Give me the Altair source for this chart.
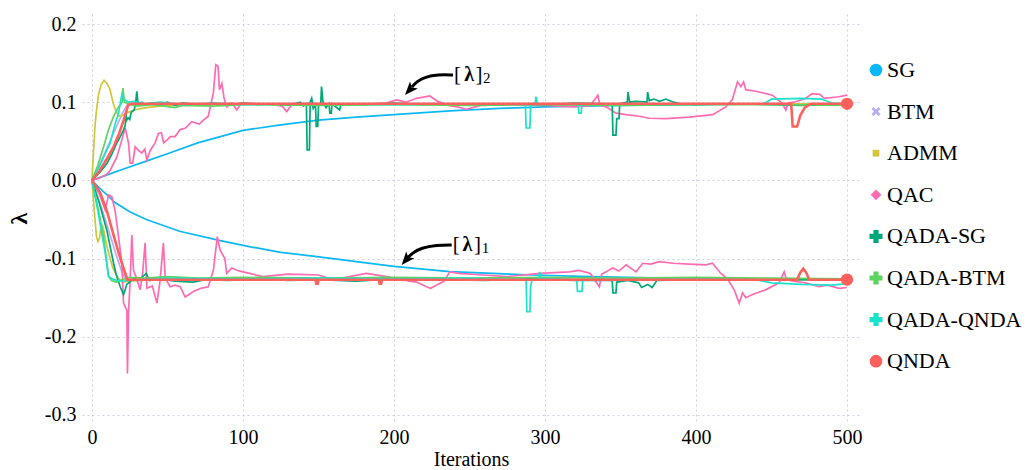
import altair as alt
import pandas as pd
import numpy as np

SERIES = ["SG", "BTM", "ADMM", "QAC", "QADA-SG", "QADA-BTM", "QADA-QNDA", "QNDA"]
COLORS = ["#0bb8f3", "#b9acf2", "#d2c53c", "#ff6bb0", "#00a779", "#5fd35f", "#19e3cb", "#ff605c"]
X_TICKS = [0, 100, 200, 300, 400, 500]
Y_TICKS = [-0.3, -0.2, -0.1, 0.0, 0.1, 0.2]

# (iteration, value); l2 = [lambda]_2 (upper), l1 = [lambda]_1 (lower)
sg_l2 = [(0, 0), (10, 0.007), (20, 0.014), (35, 0.024), (50, 0.034), (70, 0.048), (85, 0.056), (100, 0.064),
         (125, 0.071), (150, 0.077), (175, 0.081), (200, 0.084), (237, 0.089), (270, 0.092), (300, 0.094),
         (350, 0.096), (400, 0.097), (450, 0.098), (500, 0.098)]
sg_l1 = [(0, 0), (5, -0.01), (10, -0.0185), (15, -0.028), (25, -0.04), (36, -0.05), (58, -0.065), (85, -0.077),
         (105, -0.085), (125, -0.092), (149, -0.0975), (175, -0.104), (200, -0.110), (237, -0.1166),
         (265, -0.119), (292, -0.121), (330, -0.123), (380, -0.125), (430, -0.126), (500, -0.127)]

btm_l2 = [(0, 0), (4, 0.015), (8, 0.033), (12, 0.05), (16, 0.068), (20, 0.085), (23, 0.096), (26, 0.098), (500, 0.098)]
btm_l1 = [(0, 0), (4, -0.022), (8, -0.045), (12, -0.07), (16, -0.095), (20, -0.118), (23, -0.128), (26, -0.127),
          (500, -0.127)]

admm_l2 = [(0, 0), (0.7, 0.026), (2, 0.069), (3, 0.09), (4.4, 0.11), (6, 0.122), (8, 0.128), (10, 0.124),
           (12, 0.116), (14, 0.099), (16, 0.088), (18, 0.082), (20, 0.083), (24, 0.087), (28, 0.09), (33, 0.092),
           (40, 0.094), (50, 0.096), (70, 0.097), (100, 0.098), (500, 0.098)]
admm_l1 = [(0, 0), (1, -0.025), (2, -0.05), (3, -0.072), (4, -0.078), (5, -0.074), (6, -0.06), (7, -0.058),
           (8, -0.066), (10, -0.085), (12, -0.1), (14, -0.113), (17, -0.124), (20, -0.13), (25, -0.129),
           (40, -0.127), (500, -0.127)]

qac_l2 = [(0, 0), (5, 0.003), (10, 0.008), (12.1, 0.013), (16.5, 0.03), (19.8, 0.052), (22, 0.067), (24.2, 0.048),
          (25.3, 0.022), (27, 0.022), (28.6, 0.043), (31, 0.038), (33, 0.035), (35, 0.04), (36.4, 0.026),
          (38.5, 0.038), (41.8, 0.048), (44, 0.06), (46, 0.061), (47.5, 0.048), (50, 0.052), (51.8, 0.056),
          (55, 0.056), (58.4, 0.065), (62, 0.067), (66, 0.075), (71, 0.072), (73.8, 0.077), (77, 0.082),
          (80.4, 0.112), (82, 0.148), (83.5, 0.146), (84.4, 0.116), (86, 0.124), (87.5, 0.105), (89.2, 0.094),
          (92.6, 0.099), (95.9, 0.09), (99, 0.099), (110, 0.098), (120, 0.097), (126, 0.095), (129, 0.088),
          (132, 0.096), (140, 0.098), (170, 0.097), (195, 0.099), (201.6, 0.103), (208, 0.1), (215, 0.105),
          (223.7, 0.108), (229, 0.101), (236, 0.096), (242, 0.094), (248, 0.091), (254, 0.094), (260, 0.097),
          (300, 0.096), (320, 0.094), (330, 0.096), (335, 0.109), (336.5, 0.096), (340.5, 0.094), (347, 0.086),
          (353.7, 0.084), (362.5, 0.082), (369, 0.0795), (380, 0.079), (395.5, 0.081), (411, 0.084),
          (419.8, 0.094), (424, 0.103), (427.5, 0.126), (429.7, 0.12), (431.5, 0.126), (433, 0.116),
          (439.6, 0.114), (450.6, 0.109), (457, 0.099), (459.5, 0.09), (461, 0.099), (465, 0.1), (472.7, 0.105),
          (477, 0.111), (482, 0.11), (485, 0.105), (494.7, 0.107), (500, 0.109)]
qac_l1 = [(0, 0), (5, -0.018), (8.8, -0.038), (11, -0.0185), (13.2, -0.021), (15.4, -0.04), (17.6, -0.072),
          (19.8, -0.106), (20.9, -0.157), (23.1, -0.166), (23.5, -0.247), (24.2, -0.17), (25.3, -0.127),
          (26.4, -0.07), (27.5, -0.115), (29.5, -0.125), (31.9, -0.14), (33.5, -0.12), (35.2, -0.08),
          (36.4, -0.138), (40, -0.135), (43, -0.157), (45, -0.13), (47.3, -0.08), (48.5, -0.125), (51.8, -0.136),
          (55, -0.134), (58.4, -0.136), (61.7, -0.149), (67.2, -0.142), (72, -0.138), (77, -0.136), (80.4, -0.115),
          (83, -0.072), (84.8, -0.089), (88, -0.1), (89.2, -0.119), (92.6, -0.112), (96, -0.115), (100, -0.117),
          (113, -0.123), (130, -0.12), (150, -0.121), (160, -0.127), (181.8, -0.119), (195, -0.123),
          (210.4, -0.129), (215, -0.13), (221.5, -0.136), (224.4, -0.138), (229, -0.133), (233, -0.129),
          (237, -0.117), (243, -0.119), (259, -0.121), (275, -0.123), (296.4, -0.119), (316, -0.117),
          (322.8, -0.115), (330, -0.119), (336, -0.136), (337.5, -0.12), (340.5, -0.117), (344.8, -0.112),
          (349, -0.116), (353.7, -0.108), (360.3, -0.117), (364.7, -0.106), (370, -0.107), (375.7, -0.104),
          (385, -0.106), (395.5, -0.107), (406.6, -0.108), (410.9, -0.106), (416.5, -0.119), (420.9, -0.126),
          (425.3, -0.14), (428.6, -0.157), (430.8, -0.144), (433, -0.15), (437.4, -0.146), (446, -0.14),
          (455, -0.131), (458.4, -0.117), (460, -0.127), (464.5, -0.129), (472.7, -0.131), (481.5, -0.136),
          (487, -0.134), (494.7, -0.138), (500, -0.137)]

qadasg_l2 = [(0, 0), (5, 0.01), (10, 0.022), (13, 0.033), (16.5, 0.048), (19, 0.057), (21, 0.065), (22, 0.07),
             (22.5, 0.085), (23, 0.077), (24, 0.08), (25, 0.078), (26, 0.087), (28, 0.09), (29, 0.1), (29.7, 0.114),
             (30.5, 0.098), (33, 0.1), (36, 0.096), (40, 0.099), (45, 0.097), (50, 0.1), (55, 0.096), (60, 0.099),
             (70, 0.097), (80, 0.099), (90, 0.097), (100, 0.099), (110, 0.097), (120, 0.098), (130, 0.096),
             (138, 0.1), (140, 0.095), (142, 0.098), (142.5, 0.039), (144, 0.039), (144.5, 0.1), (145.5, 0.105),
             (146.5, 0.092), (148, 0.097), (148.5, 0.069), (149.5, 0.069), (150, 0.095), (151.5, 0.097),
             (152, 0.12), (153, 0.1), (155, 0.093), (157, 0.098), (157.5, 0.086), (158.5, 0.086), (159, 0.098),
             (164, 0.09), (165, 0.098), (180, 0.097), (200, 0.099), (220, 0.097), (240, 0.098), (260, 0.096),
             (280, 0.098), (300, 0.097), (320, 0.099), (340, 0.098), (344.5, 0.098), (345, 0.058), (347, 0.058),
             (347.5, 0.079), (349, 0.079), (349.5, 0.098), (354.5, 0.1), (355, 0.113), (356, 0.1), (360, 0.101),
             (367.5, 0.1), (368, 0.113), (369, 0.102), (372, 0.104), (376, 0.101), (380, 0.104), (385, 0.1),
             (390, 0.098), (400, 0.097), (420, 0.098), (450, 0.097), (470, 0.096), (500, 0.097)]
qadasg_l1 = [(0, 0), (5, -0.03), (10, -0.065), (14.3, -0.106), (16, -0.12), (18.7, -0.136), (20.9, -0.146),
             (22, -0.14), (23, -0.133), (25, -0.13), (28, -0.125), (30, -0.128), (33, -0.124), (36, -0.119),
             (38, -0.128), (45, -0.126), (55, -0.129), (67, -0.13), (75, -0.127), (90, -0.128), (110, -0.126),
             (130, -0.128), (150, -0.127), (175, -0.129), (200, -0.126), (230, -0.127), (260, -0.128),
             (290, -0.126), (320, -0.128), (344.5, -0.128), (345, -0.144), (347, -0.144), (347.5, -0.13),
             (355, -0.128), (362, -0.131), (364, -0.137), (368, -0.133), (371, -0.137), (374, -0.128),
             (400, -0.127), (450, -0.127), (500, -0.127)]

qadabtm_l2 = [(0, 0), (4, 0.02), (8, 0.045), (11, 0.065), (14.3, 0.082), (17.6, 0.094), (20, 0.1), (20.5, 0.118),
              (21.5, 0.1), (25, 0.097), (30, 0.095), (40, 0.097), (55, 0.093), (60, 0.096), (80, 0.095),
              (100, 0.097), (150, 0.096), (200, 0.097), (250, 0.096), (300, 0.097), (350, 0.096), (400, 0.097),
              (450, 0.097), (500, 0.096)]
qadabtm_l1 = [(0, 0), (4, -0.035), (7.7, -0.072), (9.5, -0.1), (11, -0.123), (13, -0.128), (16, -0.13),
              (20, -0.127), (25, -0.124), (35, -0.125), (50, -0.123), (70, -0.125), (100, -0.124), (150, -0.125),
              (200, -0.124), (250, -0.125), (300, -0.124), (350, -0.125), (400, -0.124), (450, -0.125),
              (500, -0.126)]

qadaqnda_l2 = [(0, 0), (5, 0.018), (9, 0.035), (12, 0.048), (15, 0.07), (17.6, 0.086), (19.8, 0.11), (21, 0.104),
               (24, 0.1), (28, 0.101), (35, 0.098), (45, 0.1), (60, 0.097), (80, 0.099), (100, 0.097),
               (150, 0.098), (200, 0.097), (250, 0.098), (287, 0.098), (287.5, 0.067), (290, 0.067),
               (290.5, 0.098), (293.5, 0.098), (294, 0.107), (295, 0.098), (322, 0.098), (322.5, 0.086),
               (324, 0.086), (324.5, 0.098), (400, 0.098), (445, 0.098), (450, 0.104), (470, 0.105),
               (483, 0.104), (490, 0.099), (500, 0.098)]
qadaqnda_l1 = [(0, 0), (4, -0.04), (8.8, -0.093), (11, -0.123), (14.3, -0.127), (20, -0.129), (30, -0.127),
               (50, -0.125), (100, -0.126), (150, -0.125), (200, -0.126), (250, -0.125), (287.5, -0.127),
               (288, -0.168), (290, -0.168), (290.5, -0.135), (291.5, -0.127), (296, -0.127), (296.5, -0.117),
               (297.5, -0.125), (321, -0.127), (321.5, -0.142), (324.5, -0.142), (325, -0.127), (400, -0.127),
               (440, -0.127), (450, -0.131), (470, -0.133), (490, -0.134), (500, -0.132)]

qnda_l2 = [(0, 0), (5, 0.012), (10, 0.028), (14.3, 0.043), (18, 0.06), (21, 0.077), (24, 0.0965), (26, 0.098),
           (463, 0.098), (464, 0.069), (467, 0.069), (469, 0.083), (472, 0.093), (476, 0.098), (500, 0.098)]
qnda_l1 = [(0, 0), (5.5, -0.016), (10, -0.04), (14.3, -0.07), (18, -0.095), (21, -0.113), (23.5, -0.127),
           (148, -0.127), (148.5, -0.132), (149.5, -0.132), (150, -0.127), (190, -0.127), (190.5, -0.132),
           (191.5, -0.132), (192, -0.127), (467, -0.127), (469, -0.118), (471, -0.113), (473, -0.118),
           (475, -0.127), (500, -0.127)]

SERIES_DATA = {
    "SG": (sg_l2, sg_l1), "BTM": (btm_l2, btm_l1), "ADMM": (admm_l2, admm_l1), "QAC": (qac_l2, qac_l1),
    "QADA-SG": (qadasg_l2, qadasg_l1), "QADA-BTM": (qadabtm_l2, qadabtm_l1),
    "QADA-QNDA": (qadaqnda_l2, qadaqnda_l1), "QNDA": (qnda_l2, qnda_l1),
}
WIDTHS = {"QNDA": 2.6}

# annotation text anchors (data units)
ann_upper = {"bx1": 242.1, "lx": 249.7, "bx2": 256.3, "sx": 261.4, "y": 0.1271, "sy": 0.1246, "sub": "2"}
ann_lower = {"bx1": 241.3, "lx": 248.7, "bx2": 255.3, "sx": 260.6, "y": -0.0903, "sy": -0.0928, "sub": "1"}
arrow_upper = [(239.1, 0.1348), (229.1, 0.1354), (220.5, 0.1322), (215.2, 0.1265), (211.9, 0.1194)]
arrow_upper_head = (210.4, 0.1159, 222)
arrow_lower = [(238.2, -0.0826), (228.3, -0.0826), (217.9, -0.0864), (212.3, -0.0928), (209.3, -0.0986)]
arrow_lower_head = (208.1, -0.1014, 220)

FONT = "'Liberation Serif', 'Times New Roman', serif"

xs = alt.Scale(domain=[-6.6, 508.6], nice=False, zero=False)
ys = alt.Scale(domain=[-0.309, 0.2128], nice=False, zero=False)
X = alt.X("x:Q", scale=xs, axis=alt.Axis(values=X_TICKS, title="Iterations", format="d", labelPadding=5,
                                         titlePadding=2, titleFontSize=20))
Y = alt.Y("y:Q", scale=ys, axis=alt.Axis(values=Y_TICKS, title="λ", titleFontWeight="bold", titleFontSize=24,
                                         labelPadding=6, titlePadding=13,
                                         labelExpr="datum.value < -0.00001 ? '-' + format(-datum.value, '.1f') : format(abs(datum.value), '.1f')"))

layers = []
for name, color in zip(SERIES, COLORS):
    l2, l1 = SERIES_DATA[name]
    rows = []
    for comp, pts in (("l2", l2), ("l1", l1)):
        for i, (xv, yv) in enumerate(pts):
            rows.append({"x": xv, "y": yv, "comp": comp, "i": i})
    df = pd.DataFrame(rows)
    layers.append(
        alt.Chart(df).mark_line(color=color, strokeWidth=WIDTHS.get(name, 1.7), clip=True, strokeJoin="miter")
        .encode(x=X, y=Y, detail="comp:N", order="i:Q")
    )

# endpoint markers of QNDA
end_df = pd.DataFrame({"x": [qnda_l2[-1][0], qnda_l1[-1][0]], "y": [qnda_l2[-1][1], qnda_l1[-1][1]]})
layers.append(alt.Chart(end_df).mark_point(filled=True, shape="circle", size=150, color=COLORS[-1], opacity=1)
              .encode(x=X, y=Y))

# legend-only layer
a = 0.28
plus = [(-a, -1), (a, -1), (a, -a), (1, -a), (1, a), (a, a), (a, 1), (-a, 1), (-a, a), (-1, a), (-1, -a), (-a, -a)]
r2 = np.sqrt(2)
xpts = [((px - py) / r2, (px + py) / r2) for px, py in plus]
XPATH = "M" + "L".join(f"{p:.3f},{q:.3f}" for p, q in xpts) + "Z"
SHAPES = ["circle", XPATH, "square", "diamond", "cross", "cross", "cross", "circle"]
SIZES = [160, 100, 45, 115, 169, 169, 169, 160]

leg = alt.Legend(title=None, orient="none", legendX=783, legendY=45, labelFont=FONT, labelFontSize=22,
                 labelColor="black", rowPadding=19.6, labelOffset=0, symbolOpacity=1, symbolStrokeWidth=0,
                 padding=0, labelLimit=300)
leg_df = pd.DataFrame({"series": SERIES, "x": [500] * 8, "y": [0.098] * 8})
layers.append(
    alt.Chart(leg_df).mark_point(filled=True, opacity=0).encode(
        x=X, y=Y,
        color=alt.Color("series:N", scale=alt.Scale(domain=SERIES, range=COLORS), legend=leg, sort=SERIES),
        shape=alt.Shape("series:N", scale=alt.Scale(domain=SERIES, range=SHAPES), legend=leg, sort=SERIES),
        size=alt.Size("series:N", scale=alt.Scale(type="ordinal", domain=SERIES, range=SIZES), legend=leg,
                      sort=SERIES),
    )
)

# annotations
for ann, arrow, head in ((ann_upper, arrow_upper, arrow_upper_head), (ann_lower, arrow_lower, arrow_lower_head)):
    adf = pd.DataFrame({"x": [p[0] for p in arrow], "y": [p[1] for p in arrow], "i": list(range(len(arrow)))})
    layers.append(alt.Chart(adf).mark_line(color="black", strokeWidth=3, interpolate="basis", strokeCap="butt")
                  .encode(x=X, y=Y, order="i:Q"))
    hdf = pd.DataFrame({"x": [head[0]], "y": [head[1]]})
    layers.append(alt.Chart(hdf).mark_point(filled=True, shape="M0,-1L0.75,0.9L0,0.45L-0.75,0.9Z", size=200,
                                            angle=head[2], color="black", opacity=1).encode(x=X, y=Y))
    tdf = pd.DataFrame({"x": [ann["bx1"], ann["bx2"]], "y": [ann["y"], ann["y"]], "t": ["[", "]"]})
    layers.append(alt.Chart(tdf).mark_text(font=FONT, fontSize=21, baseline="alphabetic", align="center",
                                           color="black").encode(x=X, y=Y, text="t:N"))
    ldf = pd.DataFrame({"x": [ann["lx"]], "y": [ann["y"]], "t": ["λ"]})
    layers.append(alt.Chart(ldf).mark_text(font=FONT, fontSize=20, fontWeight="bold", baseline="alphabetic",
                                           align="center", color="black").encode(x=X, y=Y, text="t:N"))
    sdf = pd.DataFrame({"x": [ann["sx"]], "y": [ann["sy"]], "t": [ann["sub"]]})
    layers.append(alt.Chart(sdf).mark_text(font=FONT, fontSize=15, baseline="alphabetic", align="center",
                                           color="black").encode(x=X, y=Y, text="t:N"))

chart = alt.layer(*layers).properties(
    width=778, height=408,
    autosize=alt.AutoSizeParams(type="none"),
    padding={"left": 82, "top": 14, "right": 172, "bottom": 48},
    background="white",
).configure_view(stroke=None).configure_axis(
    domain=False, ticks=False, grid=True, gridDash=[2, 3], gridColor="#cfcfdd", gridWidth=1,
    labelFont=FONT, labelFontSize=20, labelColor="black", titleFont=FONT, titleColor="black",
    titleFontWeight="normal",
).configure_text(font=FONT)

chart.save("out.html", embed_options={"renderer": "svg", "actions": False})
